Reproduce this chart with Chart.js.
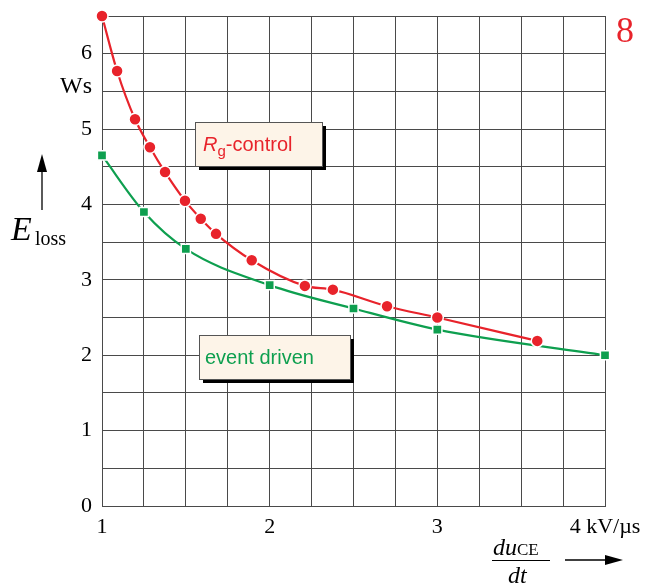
<!DOCTYPE html>
<html>
<head>
<meta charset="utf-8">
<script src="https://cdn.jsdelivr.net/npm/chart.js@4/dist/chart.umd.min.js"></script>
<style>
  html, body { margin: 0; padding: 0; background: #fff; }
  canvas { display: block; }
</style>
</head>
<body>
<canvas id="chart" width="672" height="586"></canvas>
<script>
// du/dt in kV/us, losses in Ws
const rgX = [1.0, 1.09, 1.197, 1.286, 1.376, 1.495, 1.589, 1.68, 1.893, 2.21, 2.377, 2.70, 3.0, 3.596];
const rgY = [6.5, 5.77, 5.13, 4.76, 4.43, 4.05, 3.81, 3.61, 3.26, 2.92, 2.87, 2.65, 2.50, 2.19];
const evX = [1.0, 1.25, 1.5, 2.0, 2.5, 3.0, 4.0];
const evY = [4.65, 3.90, 3.41, 2.93, 2.62, 2.34, 2.0];
const xTickLabels = { 1: "1", 2: "2", 3: "3", 4: "4 kV/\u00b5s" };
const yTickLabels = { 0: "0", 1: "1", 2: "2", 3: "3", 4: "4", 5: "5", 6: "6" };

const RED = "#e8232b";
const GREEN = "#0e9f4f";
const SERIF = "'Liberation Serif', 'Times New Roman', serif";
const SANS = "'Liberation Sans', Arial, sans-serif";

const toPoints = (xs, ys) => xs.map((x, i) => ({ x: x, y: ys[i] }));

function drawBox(ctx, x, y, w, h) {
  ctx.fillStyle = "#000";
  ctx.fillRect(x + 4, y + 4, w, h);
  ctx.fillStyle = "#fdf4e8";
  ctx.fillRect(x, y, w, h);
  ctx.strokeStyle = "#555";
  ctx.lineWidth = 1;
  ctx.strokeRect(x + 0.5, y + 0.5, w, h);
}

function arrow(ctx, x1, y1, x2, y2) {
  const ang = Math.atan2(y2 - y1, x2 - x1);
  const len = 18, half = 5;
  ctx.strokeStyle = "#000";
  ctx.fillStyle = "#000";
  ctx.lineWidth = 1.3;
  ctx.beginPath();
  ctx.moveTo(x1, y1);
  ctx.lineTo(x2 - Math.cos(ang) * len, y2 - Math.sin(ang) * len);
  ctx.stroke();
  ctx.beginPath();
  ctx.moveTo(x2, y2);
  ctx.lineTo(x2 - Math.cos(ang) * len - Math.sin(ang) * half, y2 - Math.sin(ang) * len + Math.cos(ang) * half);
  ctx.lineTo(x2 - Math.cos(ang) * len + Math.sin(ang) * half, y2 - Math.sin(ang) * len - Math.cos(ang) * half);
  ctx.closePath();
  ctx.fill();
}

const annotations = {
  id: "annotations",
  afterDraw(chart) {
    const ctx = chart.ctx;
    ctx.save();
    ctx.textBaseline = "alphabetic";

    // R_g-control label
    drawBox(ctx, 195, 122, 127, 44);
    ctx.fillStyle = RED;
    ctx.textAlign = "left";
    ctx.font = "italic 20px " + SANS;
    ctx.fillText("R", 203, 151);
    let x = 203 + ctx.measureText("R").width;
    ctx.font = "15px " + SANS;
    ctx.fillText("g", x, 156);
    x += ctx.measureText("g").width;
    ctx.font = "20px " + SANS;
    ctx.fillText("-control", x, 151);

    // event driven label
    drawBox(ctx, 199, 335, 151, 44);
    ctx.fillStyle = GREEN;
    ctx.font = "20px " + SANS;
    ctx.fillText("event driven", 205, 364);

    // y axis title
    ctx.fillStyle = "#000";
    ctx.font = "24px " + SERIF;
    ctx.textAlign = "right";
    ctx.fillText("Ws", 92, 93);
    ctx.textAlign = "left";
    ctx.font = "italic 34px " + SERIF;
    ctx.fillText("E", 11, 240);
    ctx.font = "20px " + SERIF;
    ctx.fillText("loss", 35, 245);
    arrow(ctx, 42, 210, 42, 154);

    // x axis title
    ctx.font = "italic 24px " + SERIF;
    ctx.fillText("du", 493, 555);
    let w = ctx.measureText("du").width;
    ctx.font = "17px " + SERIF;
    ctx.fillText("CE", 493 + w, 555);
    ctx.lineWidth = 1;
    ctx.strokeStyle = "#000";
    ctx.beginPath();
    ctx.moveTo(492, 560.5);
    ctx.lineTo(550, 560.5);
    ctx.stroke();
    ctx.font = "italic 24px " + SERIF;
    ctx.fillText("dt", 508, 583);
    arrow(ctx, 565, 560, 623, 560);

    // figure number
    ctx.fillStyle = RED;
    ctx.font = "36px " + SERIF;
    ctx.fillText("8", 616, 42);
    ctx.restore();
  }
};

const ctx = document.getElementById("chart").getContext("2d");
new Chart(ctx, {
  type: "line",
  data: {
    datasets: [
      {
        label: "Rg-control",
        data: toPoints(rgX, rgY),
        clip: false,
        borderColor: RED,
        backgroundColor: RED,
        borderWidth: 2.2,
        cubicInterpolationMode: "monotone",
        pointStyle: "circle",
        pointRadius: 6,
        pointBorderColor: "#fff",
        pointBorderWidth: 1.5,
        pointBackgroundColor: RED,
      },
      {
        label: "event driven",
        data: toPoints(evX, evY),
        clip: false,
        borderColor: GREEN,
        backgroundColor: GREEN,
        borderWidth: 2.2,
        cubicInterpolationMode: "monotone",
        pointStyle: "rect",
        pointRadius: 6.5,
        pointBorderColor: "#fff",
        pointBorderWidth: 1.5,
        pointBackgroundColor: GREEN,
      },
    ],
  },
  options: {
    responsive: false,
    animation: false,
    layout: { padding: { left: 0, right: 67, top: 16, bottom: 40 } },
    plugins: {
      legend: { display: false },
      tooltip: { enabled: false },
    },
    scales: {
      x: {
        type: "linear",
        min: 1,
        max: 4,
        afterFit(scale) {
          scale.height = 40;
          scale.paddingLeft = 0;
          scale.paddingRight = 0;
        },
        afterBuildTicks(scale) {
          const t = [];
          for (let i = 0; i <= 12; i++) t.push({ value: 1 + i * 0.25 });
          scale.ticks = t;
        },
        grid: { color: "#4a4a4a", lineWidth: 1, drawTicks: false },
        border: { color: "#4a4a4a", width: 1 },
        ticks: {
          autoSkip: false,
          maxRotation: 0,
          padding: 8,
          color: "#000",
          font: { family: SERIF, size: 22 },
          callback: (v) => xTickLabels[v] || "",
        },
      },
      y: {
        min: 0,
        max: 6.5,
        afterFit(scale) {
          scale.width = 102;
          scale.paddingTop = 0;
          scale.paddingBottom = 0;
        },
        afterBuildTicks(scale) {
          const t = [];
          for (let i = 0; i <= 13; i++) t.push({ value: i * 0.5 });
          scale.ticks = t;
        },
        grid: { color: "#4a4a4a", lineWidth: 1, drawTicks: false },
        border: { color: "#4a4a4a", width: 1 },
        ticks: {
          autoSkip: false,
          padding: 10,
          color: "#000",
          font: { family: SERIF, size: 22 },
          callback: (v) => yTickLabels[v] || "",
        },
      },
    },
  },
  plugins: [annotations],
});
</script>
</body>
</html>
